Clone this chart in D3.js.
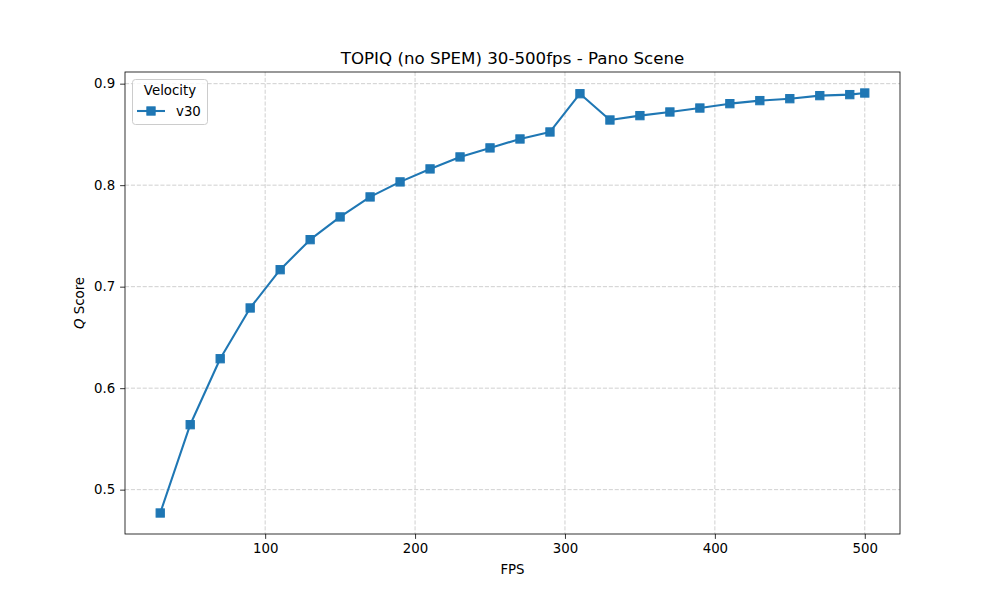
<!DOCTYPE html>
<html>
<head>
<meta charset="utf-8">
<script src="https://cdn.jsdelivr.net/npm/d3@7"></script>
<style>
  body { margin: 0; background: #fff; }
  svg { display: block; font-family: "DejaVu Sans", sans-serif; }
</style>
</head>
<body>
<svg id="chart" width="1000" height="600"></svg>
<script>
const fps = [30, 50, 70, 90, 110, 130, 150, 170, 190, 210, 230, 250, 270, 290, 310, 330, 350, 370, 390, 410, 430, 450, 470, 490, 500];
const qScore = [0.477, 0.564, 0.629, 0.679, 0.7167, 0.7463, 0.7687, 0.7884, 0.8032, 0.816, 0.8278, 0.8367, 0.8455, 0.8524, 0.8901, 0.8642, 0.8685, 0.8721, 0.876, 0.8803, 0.8833, 0.8852, 0.8882, 0.8892, 0.8908];
const xTicks = [100, 200, 300, 400, 500];
const yTicks = [0.5, 0.6, 0.7, 0.8, 0.9];
const seriesName = "v30";
const legendTitle = "Velocity";
const titleText = "TOPIQ (no SPEM) 30-500fps - Pano Scene";

const svg = d3.select("#chart");
const L = 125, R = 900, T = 72, B = 534;
const color = "#1f77b4";

const xmin = d3.min(fps), xmax = d3.max(fps), xm = (xmax - xmin) * 0.05;
const ymin = d3.min(qScore), ymax = d3.max(qScore), ym = (ymax - ymin) * 0.05;
const x = d3.scaleLinear().domain([xmin - xm, xmax + xm]).range([L, R]);
const y = d3.scaleLinear().domain([ymin - ym, ymax + ym]).range([B, T]);

// grid
const grid = svg.append("g");
grid.selectAll(".gx").data(xTicks).enter().append("line")
  .attr("x1", d => x(d)).attr("x2", d => x(d)).attr("y1", T).attr("y2", B)
  .attr("stroke", "#b0b0b0").attr("stroke-opacity", 0.75).attr("stroke-width", 0.8)
  .attr("stroke-dasharray", "4.1,1.8");
grid.selectAll(".gy").data(yTicks).enter().append("line")
  .attr("y1", d => y(d)).attr("y2", d => y(d)).attr("x1", L).attr("x2", R)
  .attr("stroke", "#b0b0b0").attr("stroke-opacity", 0.75).attr("stroke-width", 0.8)
  .attr("stroke-dasharray", "4.1,1.8");

// axes
const xAxis = d3.axisBottom(x).tickValues(xTicks).tickSizeInner(4.9).tickSizeOuter(0).tickPadding(4.9).tickFormat(d3.format("d"));
const yAxis = d3.axisLeft(y).tickValues(yTicks).tickSizeInner(4.9).tickSizeOuter(0).tickPadding(4.9).tickFormat(d3.format(".1f"));
const gx = svg.append("g").attr("transform", `translate(0,${B})`).call(xAxis);
const gy = svg.append("g").attr("transform", `translate(${L},0)`).call(yAxis);
[gx, gy].forEach(g => {
  g.select(".domain").remove();
  g.selectAll(".tick line").attr("stroke", "#000").attr("stroke-width", 0.8);
  g.selectAll(".tick text").attr("fill", "#000").style("font-size", "13.33px").style("font-family", "DejaVu Sans");
});

// frame
svg.append("rect").attr("x", L).attr("y", T).attr("width", R - L).attr("height", B - T)
  .attr("fill", "none").attr("stroke", "#000").attr("stroke-width", 0.8);

// line
const line = d3.line().x((d, i) => x(fps[i])).y(d => y(d));
svg.append("path").datum(qScore).attr("d", line)
  .attr("fill", "none").attr("stroke", color).attr("stroke-width", 2.08).attr("stroke-linejoin", "round");

const ms = 8.3;
svg.selectAll(".pt").data(qScore).enter().append("rect")
  .attr("x", (d, i) => x(fps[i]) - ms / 2).attr("y", d => y(d) - ms / 2)
  .attr("width", ms).attr("height", ms)
  .attr("fill", color).attr("stroke", color).attr("stroke-width", 1);

// title and labels
svg.append("text").attr("x", (L + R) / 2).attr("y", 64).attr("text-anchor", "middle")
  .style("font-size", "16.67px").text(titleText);
svg.append("text").attr("x", (L + R) / 2).attr("y", 574).attr("text-anchor", "middle")
  .style("font-size", "13.33px").text("FPS");
const yl = svg.append("text").attr("transform", `translate(84,${(T + B) / 2}) rotate(-90)`)
  .attr("text-anchor", "middle").style("font-size", "13.33px");
yl.append("tspan").style("font-style", "italic").text("Q");
yl.append("tspan").text(" Score");

// legend
const lg = svg.append("g");
lg.append("rect").attr("x", 132.5).attr("y", 79.5).attr("width", 75).attr("height", 45).attr("rx", 3)
  .attr("fill", "#fff").attr("fill-opacity", 0.8).attr("stroke", "#cccccc").attr("stroke-width", 1);
lg.append("text").attr("x", 170).attr("y", 95).attr("text-anchor", "middle")
  .style("font-size", "13.33px").text(legendTitle);
lg.append("line").attr("x1", 137).attr("x2", 165).attr("y1", 111).attr("y2", 111)
  .attr("stroke", color).attr("stroke-width", 2.08);
lg.append("rect").attr("x", 151 - ms / 2).attr("y", 111 - ms / 2).attr("width", ms).attr("height", ms)
  .attr("fill", color).attr("stroke", color).attr("stroke-width", 1);
lg.append("text").attr("x", 176).attr("y", 116).style("font-size", "13.33px").text(seriesName);
</script>
</body>
</html>
